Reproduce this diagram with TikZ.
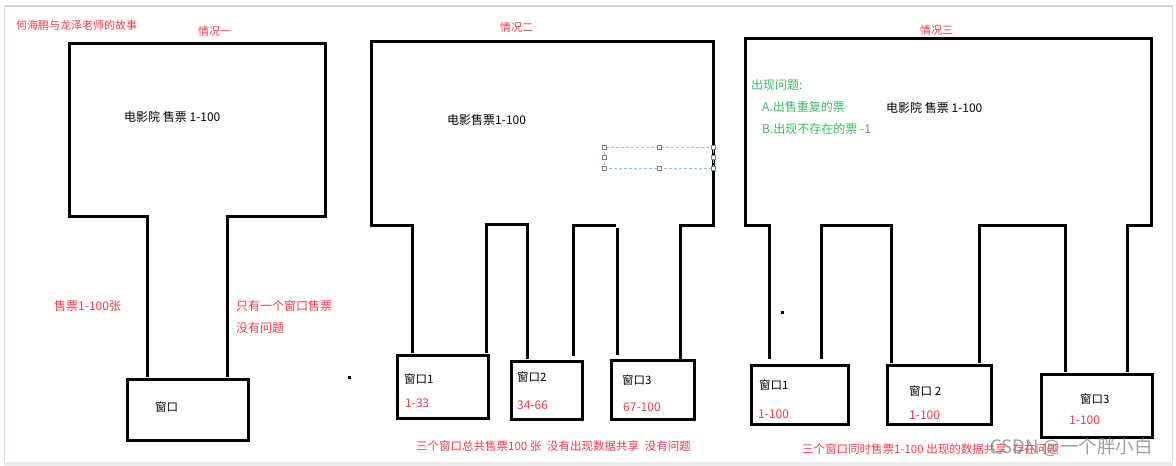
\documentclass[tikz,border=0pt]{standalone}
\usepackage{fontspec}
\setmainfont{Noto Sans CJK SC}
\definecolor{tred}{RGB}{240,60,75}
\definecolor{tgreen}{RGB}{60,185,95}
\definecolor{frame}{RGB}{205,212,228}
\definecolor{sel}{RGB}{140,195,245}
\tikzset{
  wall/.style={line width=3pt, line join=miter},
  winbox/.style={draw, line width=3pt, inner sep=0pt, anchor=north west},
  lbl/.style={anchor=west, inner sep=0pt, font=\fontsize{11}{13}\selectfont},
  biglbl/.style={anchor=west, inner sep=0pt, font=\fontsize{12}{14}\selectfont},
  redlbl/.style={lbl, text=tred},
  redbig/.style={biglbl, text=tred},
  greenlbl/.style={biglbl, text=tgreen},
  winlbl/.style={anchor=west, inner sep=0pt, font=\fontsize{11.5}{13}\selectfont},
  handle/.style={draw=gray, fill=white, line width=0.6pt, minimum size=4pt, inner sep=0pt},
}
\begin{document}
\begin{tikzpicture}[x=1pt,y=-1pt]
\useasboundingbox (0,0) rectangle (1176,466);
% outer frame
\draw[frame, line width=1.2pt] (4.5,6) -- (1172.5,6) -- (1172.5,461);
\draw[frame, line width=1.2pt] (4.5,6) -- (4.5,461);
\fill[black!8] (4,461.5) rectangle (1173,466);

% ================= Panel 1 =================
\node[winbox, minimum width=121pt, minimum height=61pt] (w0) at (125.5,377.5) {};
\coordinate (p1a) at (147,377);
\coordinate (p1b) at (227,377);
\draw[wall] (p1a) -- (147,216) -- (69,216) -- (69,43) -- (325,43) -- (325,216) -- (227,216) -- (p1b);
\node[redlbl] (title) at (16,25) {何海鹏与龙泽老师的故事};
\node[redlbl] (c1) at (198,31) {情况一};
\node[biglbl] (cin1) at (124,117) {电影院 售票 1-100};
\node[redbig] (s1) at (54,306) {售票1-100张};
\node[redbig] (s2) at (236,306) {只有一个窗口售票};
\node[redbig] (s3) at (236,328) {没有问题};
\node[winlbl] (w0t) at (155,407) {窗口};
\fill (347.5,375.5) rectangle (350.5,378.5);

% ================= Panel 2 =================
\node[winbox, minimum width=91pt, minimum height=63pt] (w21) at (395.5,353.5) {};
\node[winbox, minimum width=71pt, minimum height=58pt] (w22) at (509.5,359.5) {};
\node[winbox, minimum width=83pt, minimum height=59pt] (w23) at (609.5,358.5) {};
\draw[wall] (412,353) -- (412,225) -- (371,225) -- (371,41) -- (713,41) -- (713,225) -- (680,225) -- (680,361);
\draw[wall] (486.5,353) -- (486.5,224) -- (527,224) -- (527,359);
\draw[wall] (573,356) -- (573,225) -- (616,225);
\draw[wall] (617,228) -- (617,355);
\node[redlbl] (c2) at (500,27) {情况二};
\node[biglbl] (cin2) at (447,120) {电影售票1-100};
\node[winlbl] (w21t) at (404,379) {窗口1};
\node[redbig] (w21n) at (405,403) {1-33};
\node[winlbl] (w22t) at (517,377) {窗口2};
\node[redbig] (w22n) at (517,405) {34-66};
\node[winlbl] (w23t) at (622,380) {窗口3};
\node[redbig] (w23n) at (623,407) {67-100};
\node[redlbl, font=\fontsize{11.5}{13}\selectfont] (b2) at (416,446) {三个窗口总共售票100 张\enspace 没有出现数据共享\enspace 没有问题};
% selection rectangle
\draw[sel, dashed, line width=1pt, dash pattern=on 3pt off 2pt] (604.5,147) rectangle (713,168);
\foreach \hx/\hy in {604.5/147,659/147,713/147,604.5/157.5,713/157.5,604.5/168,659/168,713/168}
  \node[handle] at (\hx,\hy) {};

% ================= Panel 3 =================
\node[winbox, minimum width=97pt, minimum height=59pt] (w31) at (749.5,363.5) {};
\node[winbox, minimum width=104pt, minimum height=59pt] (w32) at (885.5,363.5) {};
\node[winbox, minimum width=111pt, minimum height=63pt] (w33) at (1039.5,372.5) {};
\draw[wall] (769,359) -- (769,225) -- (745,225) -- (745,38) -- (1151,38) -- (1151,225) -- (1127,225) -- (1127,372);
\draw[wall] (821,359) -- (821,225) -- (891,225) -- (891,363);
\draw[wall] (979,363) -- (979,225) -- (1065,225) -- (1065,372);
\node[redlbl] (c3) at (920,30) {情况三};
\node[greenlbl] (g1) at (751,85) {出现问题:};
\node[greenlbl] (g2) at (762,107) {A.出售重复的票};
\node[greenlbl] (g3) at (762,129) {B.出现不存在的票 -1};
\node[biglbl] (cin3) at (886,108) {电影院 售票 1-100};
\node[winlbl] (w31t) at (759,385) {窗口1};
\node[redbig] (w31n) at (758,414) {1-100};
\node[winlbl] (w32t) at (909,391) {窗口 2};
\node[redbig] (w32n) at (909,415) {1-100};
\node[winlbl] (w33t) at (1080,399) {窗口3};
\node[redbig] (w33n) at (1069,420) {1-100};
\fill (780.5,310.5) rectangle (783.5,313.5);
\node[redlbl, font=\fontsize{11.5}{13}\selectfont] (b3) at (802,449) {三个窗口同时售票1-100 出现的数据共享\enspace 存在问题};
\node[anchor=west, inner sep=0pt, text=gray, opacity=0.75, font=\fontsize{18.5}{20}\selectfont] (wm) at (990,447) {CSDN @一个胖小白};
\end{tikzpicture}
\end{document}
